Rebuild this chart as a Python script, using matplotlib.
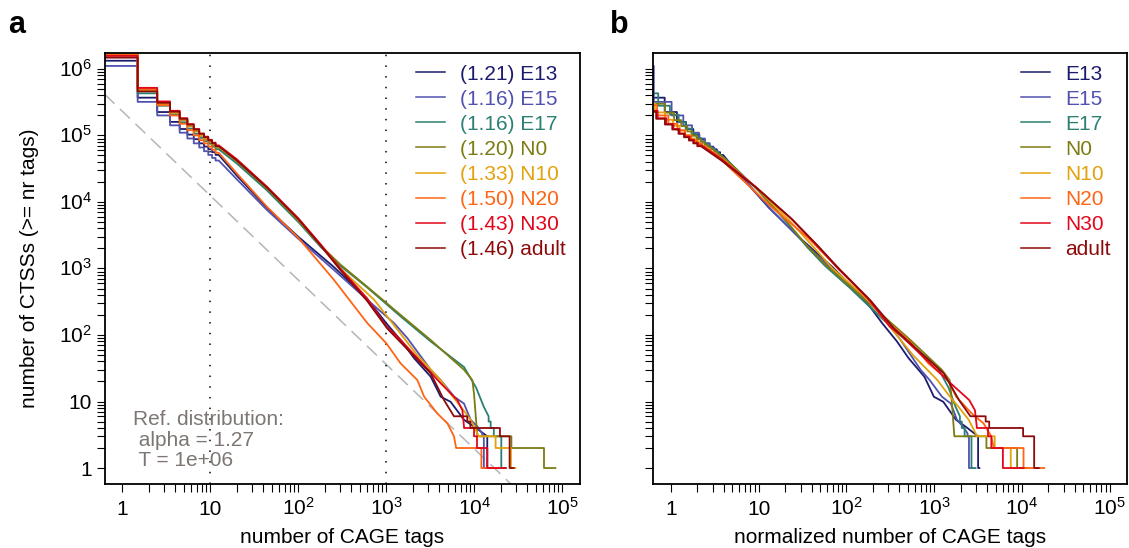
# reverse cumulative distributions of CAGE tags per CTSS (raw and power-law normalized)

import numpy as np
import matplotlib.pyplot as plt
import matplotlib.transforms as mtransforms
from matplotlib.lines import Line2D
from matplotlib.ticker import FixedLocator, NullFormatter

plt.rcParams['font.family'] = ['Liberation Sans', 'DejaVu Sans']
plt.rcParams['mathtext.default'] = 'regular'

names  = ['E13', 'E15', 'E17', 'N0', 'N10', 'N20', 'N30', 'adult']
colors = ['#1c1c6e', '#5152b0', '#2b8073', '#7c7c12', '#e3a20c', '#ff6414', '#e2061a', '#8e0a0a']
alphas = [1.21, 1.16, 1.16, 1.20, 1.33, 1.50, 1.43, 1.46]

ref_alpha = 1.27
ref_T = 1e6

# number of CTSSs with >= 1..12 tags
head = {
    'E13':   [1330000, 370000, 225000, 160000, 125000, 103000, 88000, 76000, 68000, 62000, 56000, 51000],
    'E15':   [1110000, 320000, 200000, 142000, 110000, 90000, 76000, 66000, 58000, 51000, 46000, 42000],
    'E17':   [1720000, 430000, 280000, 205000, 158000, 127000, 106000, 92000, 82000, 75000, 68000, 62000],
    'N0':    [1700000, 480000, 300000, 220000, 170000, 138000, 115000, 99000, 88000, 80000, 72000, 66000],
    'N10':   [1660000, 470000, 300000, 222000, 172000, 140000, 118000, 101000, 90000, 82000, 74000, 68000],
    'N20':   [1640000, 500000, 285000, 200000, 150000, 120000, 100000, 85000, 76000, 68000, 61000, 55000],
    'N30':   [1570000, 520000, 325000, 235000, 182000, 148000, 125000, 107000, 96000, 86000, 78000, 71000],
    'adult': [1480000, 460000, 310000, 228000, 178000, 146000, 123000, 106000, 94000, 84000, 76000, 69000],
}

# middle part of the curves: tag count -> number of CTSSs
body_x = {
    'E13':   [20, 44, 100, 254, 605, 1000, 1500, 2060, 3190, 3800, 4140, 5370, 7620, 9900, 14000],
    'E15':   [20, 44, 100, 254, 605, 1217, 1730, 3190, 4140, 5900, 7620, 9080, 10800, 12300],
    'E17':   [20, 44, 100, 180, 300, 605, 1455, 3190, 7620, 10500, 12800, 14500],
    'N0':    [20, 44, 100, 180, 300, 605, 1455, 3190, 7620, 9480, 9900, 10800],
    'N10':   [20, 44, 100, 180, 300, 725, 1023, 2240, 4140, 5370, 6980, 9080, 11200],
    'N20':   [20, 44, 100, 254, 605, 1000, 1450, 2250, 2690, 3800, 4930, 5860, 6200],
    'N30':   [20, 44, 100, 180, 300, 600, 1000, 1334, 2690, 4140, 6400, 7300, 7620],
    'adult': [20, 44, 100, 180, 300, 600, 1026, 3190, 4520, 5860],
}
body_y = {
    'E13':   [25000, 8200, 3000, 1050, 350, 150, 80, 45, 23.6, 14.9, 11.8, 9.9, 5.3, 4.2, 3],
    'E15':   [22000, 7600, 2800, 950, 340, 152, 90, 30, 21, 11.8, 9.3, 5.3, 4.2, 3.3],
    'E17':   [38000, 15000, 5000, 2100, 1100, 520, 190, 80, 33, 16, 8.3, 6],
    'N0':    [41000, 16000, 5300, 2200, 1150, 533, 200, 84, 30, 21, 13, 3],
    'N10':   [42000, 16500, 5400, 2200, 1000, 340, 190, 50, 21, 13, 8.4, 5.3, 3],
    'N20':   [27000, 8500, 2900, 675, 152, 75, 37.5, 21, 11.8, 6.6, 4.7, 3, 2],
    'N30':   [44000, 17000, 5700, 2300, 1000, 360, 135, 95, 35, 18.8, 10.5, 7.4, 4.2],
    'adult': [42000, 16500, 5500, 2200, 950, 330, 125, 26.5, 10.5, 6],
}

# tag counts of the highest expressed CTSSs (rank 1, 2, ...)
top_tags = {
    'E13':   [14500, 14000, 14000],
    'E15':   [14000, 12800, 12800],
    'E17':   [22700, 20200, 20200, 16600, 15300],
    'N0':    [83000, 61700, 26300],
    'N10':   [29200, 26000, 17400],
    'N20':   [19000, 12000],
    'N30':   [22700, 14000, 10700, 9900],
    'adult': [27900, 25100, 25100, 19500, 9000, 8300],
}


def zeta(s, n=5000):
    k = np.arange(1, n + 1)
    return np.sum(k ** -s) + n ** (1 - s) / (s - 1) - 0.5 * n ** -s


ref_c = ref_T / zeta(ref_alpha)


def build_curve(name):
    h = head[name]
    xs, ys = [], []
    for i, v in enumerate(h):
        xs += [i + 0.5, i + 1.5]
        ys += [v, v]
    xs += body_x[name]
    ys += body_y[name]
    top = top_tags[name]
    K = len(top)
    xs.append(body_x[name][-1])
    ys.append(K)
    for k in range(K, 0, -1):
        xs.append(top[k - 1])
        ys.append(k)
        if k > 1:
            xs.append(top[k - 1])
            ys.append(k - 1)
    return np.array(xs, float), np.array(ys, float)


fig = plt.figure(figsize=(11.29, 5.48), dpi=100)
axa = fig.add_axes([0.0926, 0.1168, 0.4212, 0.7865])
axb = fig.add_axes([0.5787, 0.1168, 0.4198, 0.7865])

xlo, xhi = 10 ** -0.2, 10 ** 5.2
ylo, yhi = 10 ** -0.24, 10 ** 6.24

# reference power law and fit range
xr = np.array([xlo, xhi])
axa.plot(xr, ref_c * xr ** -ref_alpha, color='#b5b5b5', lw=1.1, dashes=(9, 5))
for v in (10, 1000):
    axa.axvline(v, color='black', lw=1.1, dashes=(1, 6))

for i, name in enumerate(names):
    xs, ys = build_curve(name)
    axa.plot(xs, ys, color=colors[i], lw=1.3)
    # power-law normalization onto the reference distribution
    hx = np.arange(1, len(head[name]) + 1)
    fx = np.concatenate([hx, body_x[name]]).astype(float)
    fy = np.concatenate([head[name], body_y[name]]).astype(float)
    sel = (fx >= 10) & (fx <= 1000)
    a = alphas[i]
    beta = np.mean(np.log10(fy[sel]) + a * np.log10(fx[sel]))
    c = (np.log10(ref_c) - beta) / ref_alpha
    axb.plot(10 ** c * xs ** (a / ref_alpha), ys, color=colors[i], lw=1.3)

xmajor = 10.0 ** np.arange(0, 6)
ymajor = 10.0 ** np.arange(0, 7)
xminor = np.concatenate([np.arange(2, 10) * 10.0 ** k for k in range(0, 5)])
yminor = np.concatenate([np.arange(2, 10) * 10.0 ** k for k in range(0, 6)])
xlabels = ['1', '10', '$10^2$', '$10^3$', '$10^4$', '$10^5$']
ylabels = ['1', '10', '$10^2$', '$10^3$', '$10^4$', '$10^5$', '$10^6$']

for ax in (axa, axb):
    ax.set_xscale('log')
    ax.set_yscale('log')
    ax.set_xlim(xlo, xhi)
    ax.set_ylim(ylo, yhi)
    ax.xaxis.set_major_locator(FixedLocator(xmajor))
    ax.xaxis.set_minor_locator(FixedLocator(xminor))
    ax.yaxis.set_major_locator(FixedLocator(ymajor))
    ax.yaxis.set_minor_locator(FixedLocator(yminor))
    ax.xaxis.set_minor_formatter(NullFormatter())
    ax.yaxis.set_minor_formatter(NullFormatter())
    ax.set_xticklabels(xlabels)
    ax.set_yticklabels(ylabels)
    ax.tick_params(which='both', direction='out', length=5.5, width=0.8, labelsize=15)
    ax.tick_params(axis='x', which='major', pad=16.5)
    ax.tick_params(axis='y', which='major', pad=3.5)
    for s in ax.spines.values():
        s.set_linewidth(1.3)
    for lab in ax.get_xticklabels():
        lab.set_verticalalignment('baseline')
    off = mtransforms.ScaledTranslation(0, -5.4 / 72, fig.dpi_scale_trans)
    for lab in ax.get_yticklabels():
        lab.set_verticalalignment('baseline')
        lab.set_transform(lab.get_transform() + off)

axb.tick_params(axis='y', labelleft=False)

axa.set_xlabel('number of CAGE tags', fontsize=15, va='center')
axa.xaxis.set_label_coords(0.5, -0.123)
axa.set_ylabel('number of CTSSs (>= nr tags)', fontsize=15, va='center')
axa.yaxis.set_label_coords(-0.157, 0.5)
axb.set_xlabel('normalized number of CAGE tags', fontsize=15, va='center')
axb.xaxis.set_label_coords(0.5, -0.123)

axa.text(0.06, 0.102, 'Ref. distribution:\n alpha = 1.27\n T = 1e+06', transform=axa.transAxes,
         fontsize=15, color='#7d7672', ha='left', va='center', linespacing=1.07)

handles = [Line2D([], [], color=c, lw=1.1) for c in colors]
labels_a = ['(%.2f) %s' % (a, n) for a, n in zip(alphas, names)]
axa.legend(handles, labels_a, loc='upper left', bbox_to_anchor=(0.655, 0.973), frameon=False,
           fontsize=15, handlelength=1.4, handletextpad=0.7, labelspacing=0.29,
           borderpad=0, borderaxespad=0, labelcolor=colors)
axb.legend(handles, names, loc='upper left', bbox_to_anchor=(0.776, 0.973), frameon=False,
           fontsize=15, handlelength=1.4, handletextpad=0.7, labelspacing=0.29,
           borderpad=0, borderaxespad=0, labelcolor=colors)

fig.text(8 / 1129, 1 - 33 / 548, 'a', fontsize=22, fontweight='bold', va='baseline')
fig.text(610 / 1129, 1 - 33 / 548, 'b', fontsize=22, fontweight='bold', va='baseline')

plt.savefig('out.png', dpi=100)
